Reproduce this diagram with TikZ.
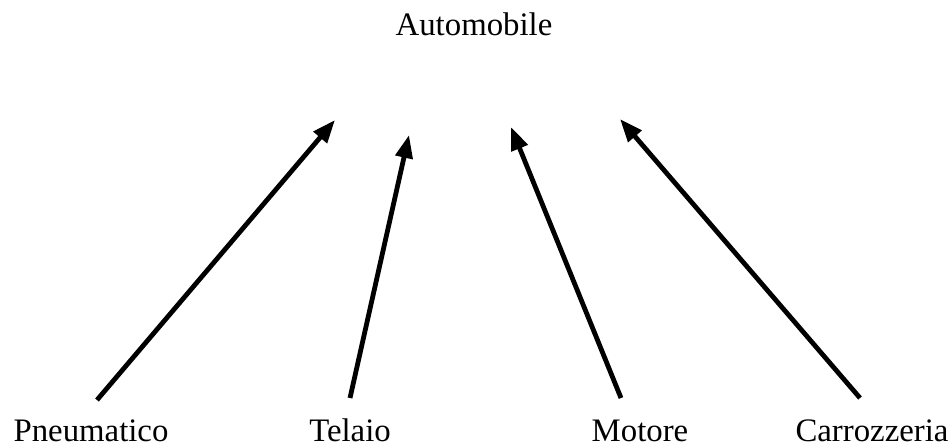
\documentclass[tikz,border=0pt]{standalone}
\usepackage{fontspec}
\setmainfont{Liberation Serif}
\usetikzlibrary{arrows.meta}
\begin{document}
\begin{tikzpicture}[x=1pt,y=-1pt,
  lbl/.style={inner sep=0pt,anchor=base,text depth=0pt,font=\fontsize{32.8}{38}\selectfont},
  arr/.style={line width=4.8pt,-{Triangle[length=23pt,width=17pt]}}]
\useasboundingbox (0,0) rectangle (952,447);
\node[lbl] (auto) at (474,35) {Automobile};
\node[lbl] (pneu) at (91,441) {Pneumatico};
\node[lbl] (tel) at (350,441) {Telaio};
\node[lbl] (mot) at (640,441) {Motore};
\node[lbl] (car) at (872,441) {Carrozzeria};
\coordinate (p0) at (97,400);
\coordinate (p1) at (335,120);
\coordinate (t0) at (350,398);
\coordinate (t1) at (409,135);
\coordinate (m0) at (621,398);
\coordinate (m1) at (511,127);
\coordinate (c0) at (860,398);
\coordinate (c1) at (620,119);
\draw[arr] (p0) -- (p1);
\draw[arr] (t0) -- (t1);
\draw[arr] (m0) -- (m1);
\draw[arr] (c0) -- (c1);
\end{tikzpicture}
\end{document}
